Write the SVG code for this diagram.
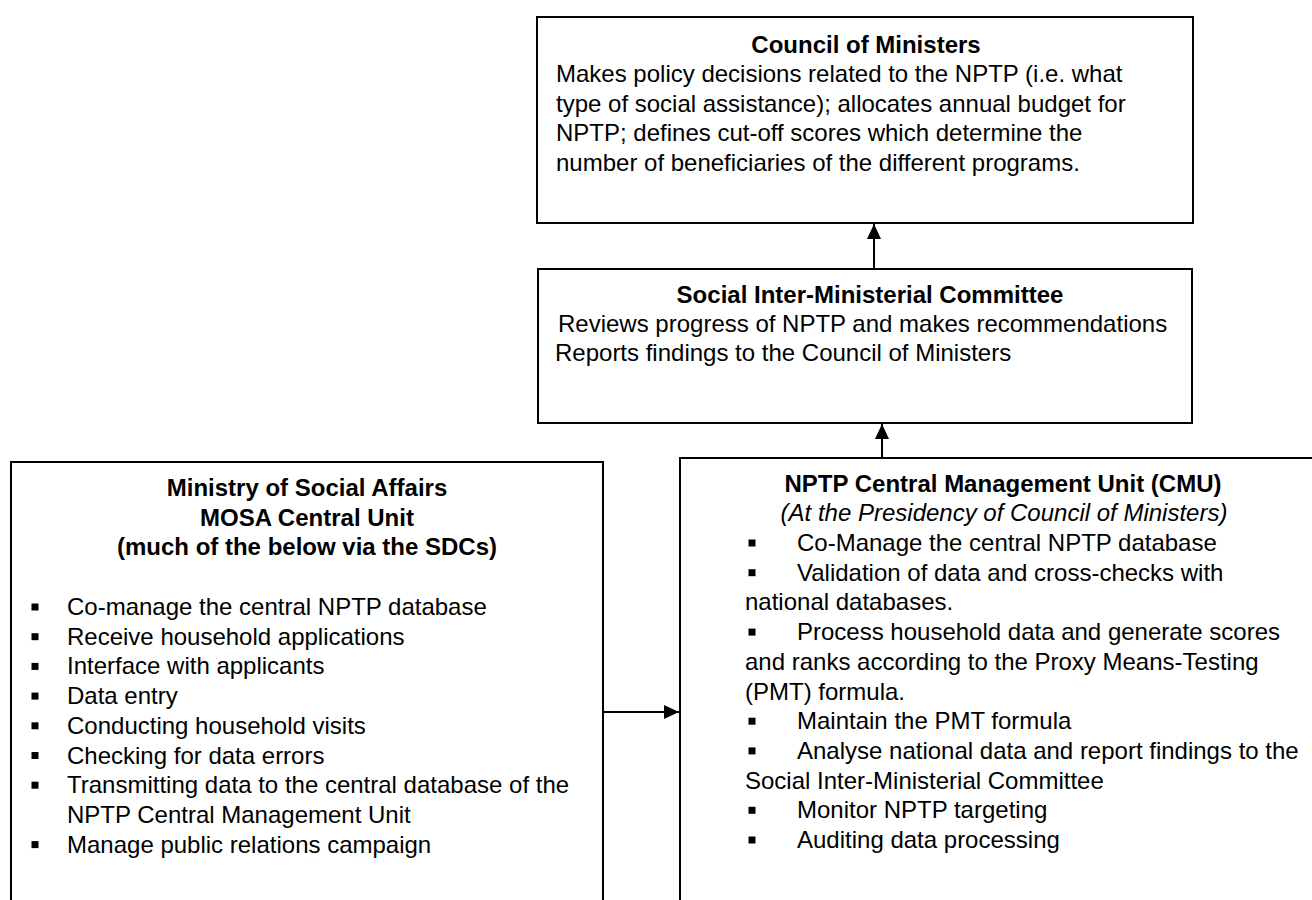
<svg xmlns="http://www.w3.org/2000/svg" xmlns:xlink="http://www.w3.org/1999/xlink" width="1312" height="900" viewBox="0 0 1312 900">
  <style>
    text { font-family: "Liberation Sans", Arial, sans-serif; font-size: 24px; fill: #000; }
    .title { font-weight: bold; text-anchor: middle; }
    .ital { font-style: italic; text-anchor: middle; }
    .box { fill: #fff; stroke: #000; stroke-width: 2; }
    .conn { stroke: #000; stroke-width: 2; fill: none; marker-end: url(#arrow); }
  </style>
  <defs>
    <marker id="arrow" viewBox="0 0 15 14" refX="15" refY="7" markerWidth="15" markerHeight="14" markerUnits="userSpaceOnUse" orient="auto">
      <path d="M0,0 L15,7 L0,14 Z" fill="#000"/>
    </marker>
    <rect id="bullet" x="-3.5" y="-3.5" width="7" height="7" fill="#000"/>
  </defs>

  <rect width="1312" height="900" fill="#fff"/>

  <!-- Council of Ministers -->
  <g id="council">
    <rect class="box" x="537" y="17" width="656" height="206"/>
    <text class="title" x="866" y="53">Council of Ministers</text>
    <text x="556" y="82">Makes policy decisions related to the NPTP (i.e. what</text>
    <text x="556" y="111.5">type of social assistance); allocates annual budget for</text>
    <text x="556" y="141">NPTP; defines cut-off scores which determine the</text>
    <text x="556" y="170.5">number of beneficiaries of the different programs.</text>
  </g>

  <!-- Social Inter-Ministerial Committee -->
  <g id="simc">
    <rect class="box" x="538" y="269" width="654" height="154"/>
    <text class="title" x="870" y="303">Social Inter-Ministerial Committee</text>
    <text x="558" y="332">Reviews progress of NPTP and makes recommendations</text>
    <text x="555" y="361">Reports findings to the Council of Ministers</text>
  </g>

  <!-- Ministry of Social Affairs -->
  <g id="mosa">
    <rect class="box" x="11" y="462" width="592" height="480"/>
    <text class="title" x="307" y="496">Ministry of Social Affairs</text>
    <text class="title" x="307" y="525.7">MOSA Central Unit</text>
    <text class="title" x="307" y="555.4">(much of the below via the SDCs)</text>
    <use xlink:href="#bullet" x="35" y="607"/>
    <text x="67" y="615">Co-manage the central NPTP database</text>
    <use xlink:href="#bullet" x="35" y="636.7"/>
    <text x="67" y="644.7">Receive household applications</text>
    <use xlink:href="#bullet" x="35" y="666.4"/>
    <text x="67" y="674.4">Interface with applicants</text>
    <use xlink:href="#bullet" x="35" y="696.1"/>
    <text x="67" y="704.1">Data entry</text>
    <use xlink:href="#bullet" x="35" y="725.8"/>
    <text x="67" y="733.8">Conducting household visits</text>
    <use xlink:href="#bullet" x="35" y="755.5"/>
    <text x="67" y="763.5">Checking for data errors</text>
    <use xlink:href="#bullet" x="35" y="785.2"/>
    <text x="67" y="793.2">Transmitting data to the central database of the</text>
    <text x="67" y="822.9">NPTP Central Management Unit</text>
    <use xlink:href="#bullet" x="35" y="844.6"/>
    <text x="67" y="852.6">Manage public relations campaign</text>
  </g>

  <!-- NPTP Central Management Unit -->
  <g id="cmu">
    <rect class="box" x="680" y="458" width="650" height="480"/>
    <text class="title" x="1003" y="492">NPTP Central Management Unit (CMU)</text>
    <text class="ital" x="1004" y="521">(At the Presidency of Council of Ministers)</text>
    <use xlink:href="#bullet" x="752" y="543"/>
    <text x="797" y="551">Co-Manage the central NPTP database</text>
    <use xlink:href="#bullet" x="752" y="572.7"/>
    <text x="797" y="580.7">Validation of data and cross-checks with</text>
    <text x="745" y="610.4">national databases.</text>
    <use xlink:href="#bullet" x="752" y="632.1"/>
    <text x="797" y="640.1">Process household data and generate scores</text>
    <text x="745" y="669.8">and ranks according to the Proxy Means-Testing</text>
    <text x="745" y="699.5">(PMT) formula.</text>
    <use xlink:href="#bullet" x="752" y="721.2"/>
    <text x="797" y="729.2">Maintain the PMT formula</text>
    <use xlink:href="#bullet" x="752" y="750.9"/>
    <text x="797" y="758.9">Analyse national data and report findings to the</text>
    <text x="745" y="788.6">Social Inter-Ministerial Committee</text>
    <use xlink:href="#bullet" x="752" y="810.3"/>
    <text x="797" y="818.3">Monitor NPTP targeting</text>
    <use xlink:href="#bullet" x="752" y="840"/>
    <text x="797" y="848">Auditing data processing</text>
  </g>

  <!-- Connectors -->
  <g id="connectors">
    <line class="conn" x1="874" y1="269" x2="874" y2="224"/>
    <line class="conn" x1="882" y1="458" x2="882" y2="424"/>
    <line class="conn" x1="603" y1="712" x2="679" y2="712"/>
  </g>
</svg>
